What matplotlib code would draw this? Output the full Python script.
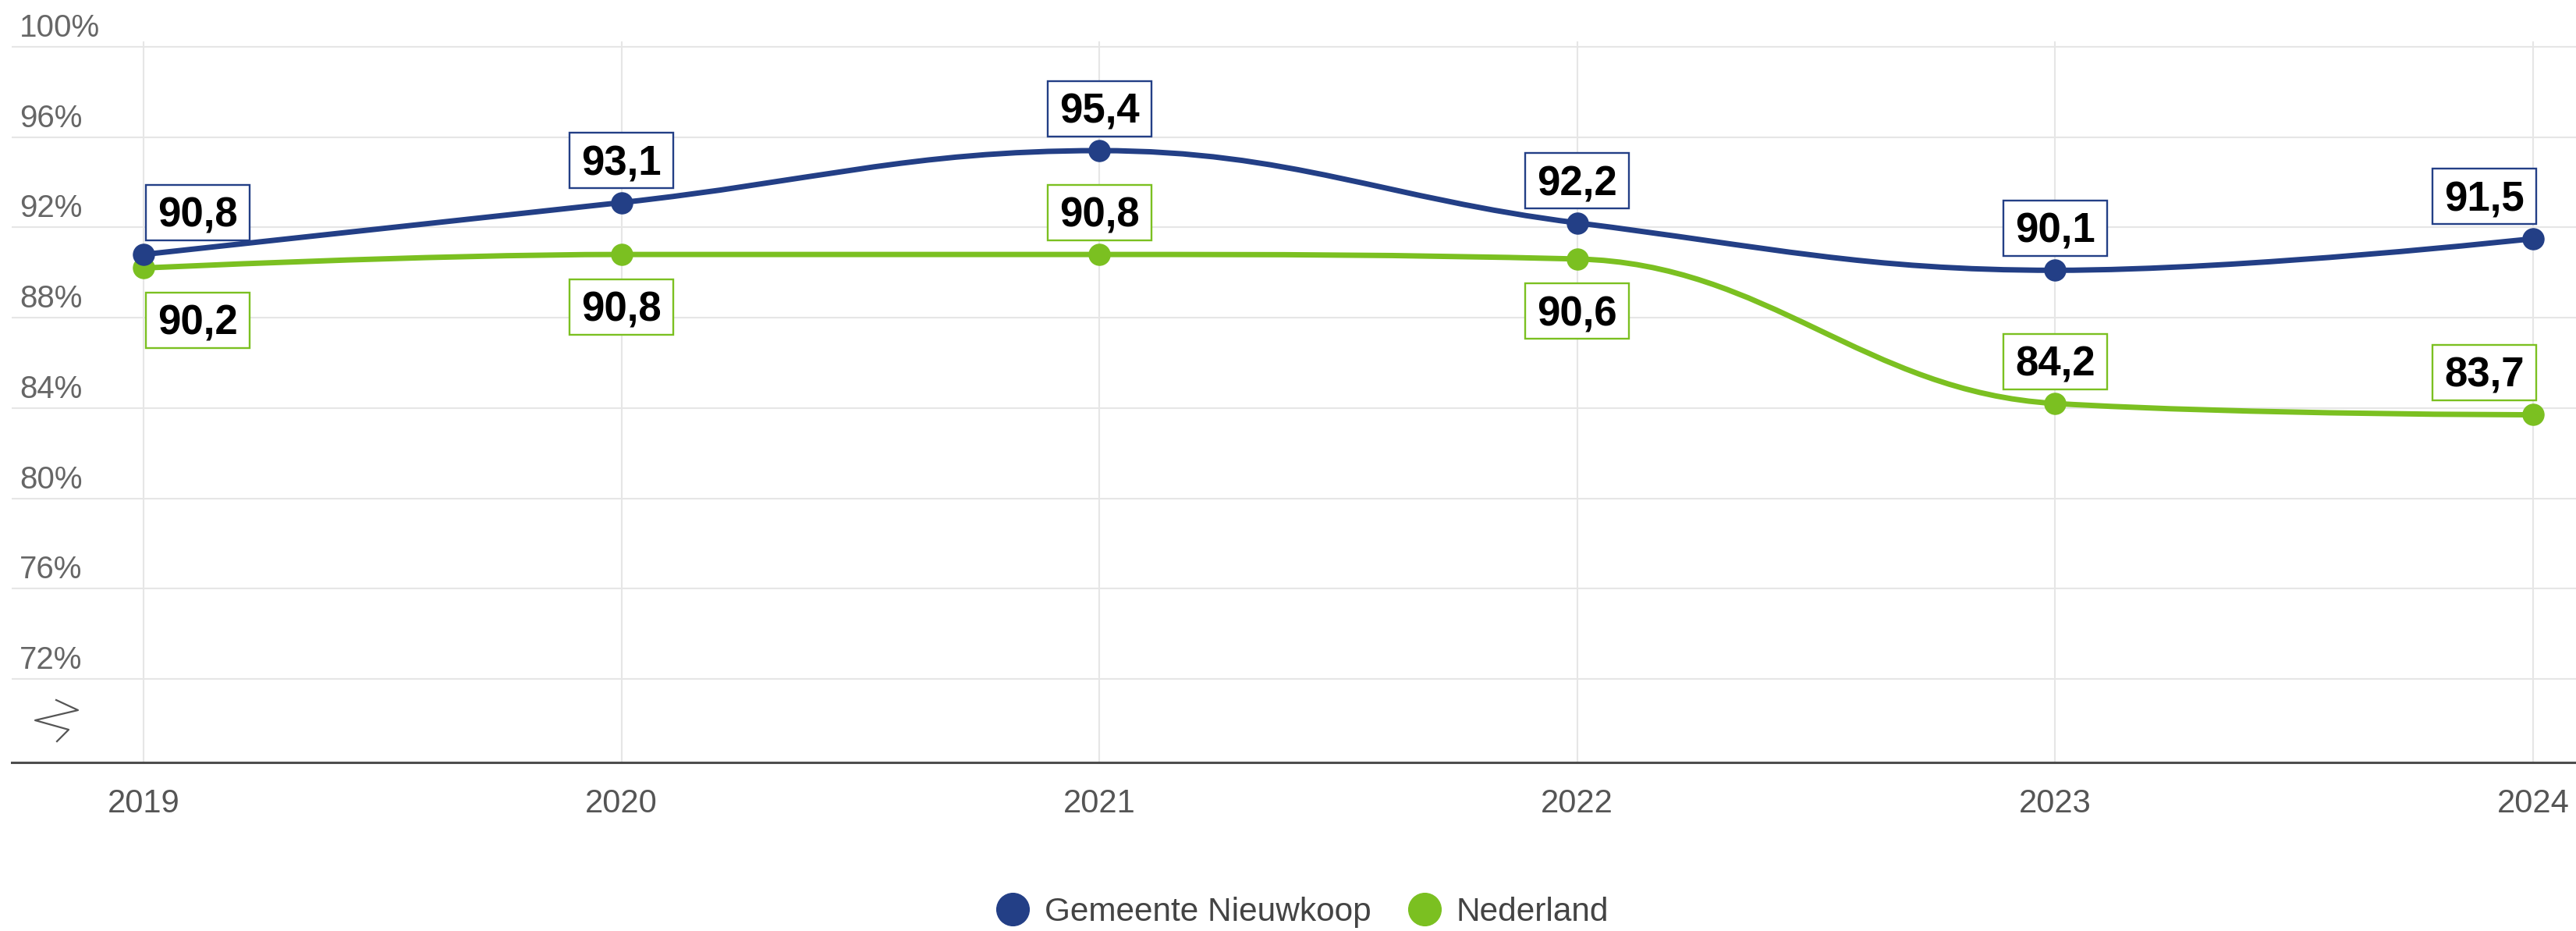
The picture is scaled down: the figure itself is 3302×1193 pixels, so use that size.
import matplotlib.pyplot as plt
import matplotlib.transforms as mtransforms
from matplotlib.path import Path
from matplotlib.patches import PathPatch, Rectangle
from matplotlib.lines import Line2D

plt.rcParams['font.family'] = ['Liberation Sans', 'DejaVu Sans']

years = [2019, 2020, 2021, 2022, 2023, 2024]
nieuwkoop = [90.8, 93.1, 95.4, 92.2, 90.1, 91.5]
nederland = [90.2, 90.8, 90.8, 90.6, 84.2, 83.7]
series_names = ['Gemeente Nieuwkoop', 'Nederland']
y_ticks = [72, 76, 80, 84, 88, 92, 96, 100]

BLUE = '#233f86'
GREEN = '#7bc021'
W, H, DPI = 3302, 1193, 100


def spline_path(xs, ys, smoothing=1.5):
    # same control points as the highcharts spline series
    n = len(xs)
    left = [None] * n
    right = [None] * n
    for i in range(n):
        x, y = xs[i], ys[i]
        if 0 < i < n - 1:
            lx, ly = xs[i - 1], ys[i - 1]
            nx, ny = xs[i + 1], ys[i + 1]
            d = smoothing + 1
            lcx, lcy = (smoothing * x + lx) / d, (smoothing * y + ly) / d
            rcx, rcy = (smoothing * x + nx) / d, (smoothing * y + ny) / d
            corr = (rcy - lcy) * (rcx - x) / (rcx - lcx) + y - rcy
            lcy += corr
            rcy += corr
            if lcy > ly and lcy > y:
                lcy = max(ly, y); rcy = 2 * y - lcy
            elif lcy < ly and lcy < y:
                lcy = min(ly, y); rcy = 2 * y - lcy
            if rcy > ny and rcy > y:
                rcy = max(ny, y); lcy = 2 * y - rcy
            elif rcy < ny and rcy < y:
                rcy = min(ny, y); lcy = 2 * y - rcy
            left[i], right[i] = (lcx, lcy), (rcx, rcy)
        else:
            left[i] = right[i] = (x, y)
    verts = [(xs[0], ys[0])]
    codes = [Path.MOVETO]
    for i in range(1, n):
        verts += [right[i - 1], left[i], (xs[i], ys[i])]
        codes += [Path.CURVE4] * 3
    return Path(verts, codes)


def add_label(ax, x, y, value, color, dx, dy):
    # box of 133x71 px, offsets in pixels from the point
    tr = mtransforms.ScaledTranslation(x, y, ax.transData)
    ax.add_patch(Rectangle((dx - 66.5, dy - 35.5), 133, 71, transform=tr,
                           facecolor='white', edgecolor=color, lw=1.7,
                           zorder=6, clip_on=False))
    ax.text(dx, dy - 18.5, f'{value:.1f}'.replace('.', ','), transform=tr,
            ha='center', va='baseline', fontsize=38, fontweight='bold',
            color='black', zorder=7, clip_on=False)


fig = plt.figure(figsize=(W / DPI, H / DPI), dpi=DPI)
ax = fig.add_axes([15 / W, 1 - 977 / H, 3287 / W, 924 / H])
ax.set_xlim(2018.724, 2024.09)
ax.set_ylim(68.3, 100.24)

ax.set_yticks(y_ticks)
ax.set_xticks(years)
ax.tick_params(axis='y', length=0, labelleft=False)
ax.tick_params(axis='x', length=0, pad=24, labelsize=30, labelcolor='#555555')
ax.grid(True, color='#e6e6e6', lw=1.5, zorder=0)
for s in ['top', 'right', 'left']:
    ax.spines[s].set_visible(False)
ax.spines['bottom'].set_color('#4d4d4d')
ax.spines['bottom'].set_linewidth(2.2)

for v in y_ticks:
    ax.annotate(f'{v}%', xy=(0, v), xycoords=ax.get_yaxis_transform(),
                xytext=(10, 13), textcoords='offset pixels', ha='left',
                va='baseline', fontsize=29, color='#666666')

for vals, color in [(nederland, GREEN), (nieuwkoop, BLUE)]:
    ax.add_patch(PathPatch(spline_path(years, vals), facecolor='none',
                           edgecolor=color, lw=5, zorder=3,
                           capstyle='round'))
    ax.plot(years, vals, 'o', ms=19.5, color=color, zorder=4)

for i, yr in enumerate(years):
    if i == 0:
        dx = 69
    elif i == len(years) - 1:
        dx = -62
    else:
        dx = 0
    add_label(ax, yr, nieuwkoop[i], nieuwkoop[i], BLUE, dx, 54)
    below = nieuwkoop[i] - nederland[i] < 4
    add_label(ax, yr, nederland[i], nederland[i], GREEN, dx, -67 if below else 54)

# axis break mark
zx = [72, 100, 45, 88, 73]
zy = [897, 910, 923, 935, 950]
fig.add_artist(Line2D([v / W for v in zx], [1 - v / H for v in zy],
                      color='#555555', lw=1.6))

handles = [Line2D([], [], marker='o', ls='none', ms=30, color=c)
           for c in [BLUE, GREEN]]
fig.legend(handles, series_names, loc='center', bbox_to_anchor=(0.5056, 0.0201),
           ncol=2, frameon=False, fontsize=30.5, handlelength=1.0,
           handletextpad=0.46, columnspacing=1.1, labelcolor='#444444',
           borderpad=0, borderaxespad=0)

fig.savefig('out.png', dpi=DPI)
